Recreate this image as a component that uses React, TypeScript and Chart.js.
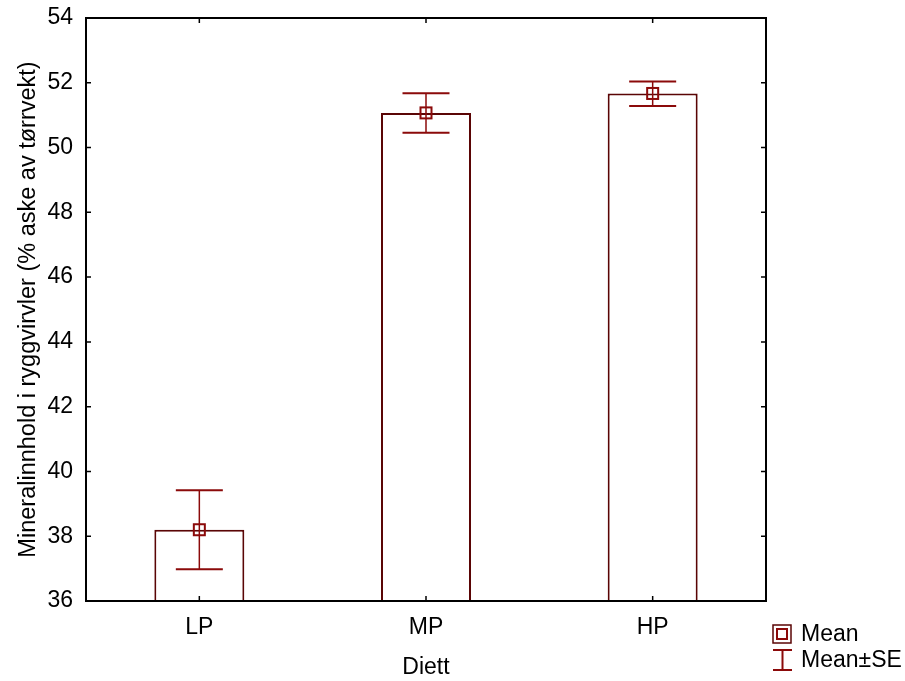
import React, { useEffect, useRef } from "react";
import { Chart, registerables } from "chart.js";

Chart.register(...registerables);

const categories = ["LP", "MP", "HP"];
const means = [38.2, 51.07, 51.67];
const seLower = [36.98, 50.46, 51.28];
const seUpper = [39.42, 51.68, 52.04];
const yMin = 36;
const yMax = 54;
const yStep = 2;
const legendLabels = ["Mean", "Mean±SE"];
const xTitle = "Diett";
const yTitle = "Mineralinnhold i ryggvirvler (% aske av tørrvekt)";

const FONT = "'Liberation Sans', Arial, Helvetica, sans-serif";
const BAR_EDGE = "#5a0505";
const ERR = "#8b0a0a";

const overlayPlugin = {
  id: "overlay",
  afterDatasetsDraw(chart: any) {
    const { ctx, chartArea } = chart;
    const xs = chart.scales.x;
    const ys = chart.scales.y;
    ctx.save();
    // error bars and mean markers
    for (let i = 0; i < categories.length; i++) {
      const x = xs.getPixelForValue(i);
      const yl = ys.getPixelForValue(seLower[i]);
      const yh = ys.getPixelForValue(seUpper[i]);
      const ym = ys.getPixelForValue(means[i]);
      ctx.strokeStyle = ERR;
      ctx.lineWidth = 1.5;
      ctx.beginPath();
      ctx.moveTo(x, yl);
      ctx.lineTo(x, yh);
      ctx.stroke();
      ctx.lineWidth = 2;
      ctx.beginPath();
      ctx.moveTo(x - 23.5, yl);
      ctx.lineTo(x + 23.5, yl);
      ctx.moveTo(x - 23.5, yh);
      ctx.lineTo(x + 23.5, yh);
      ctx.stroke();
      ctx.lineWidth = 2;
      ctx.strokeRect(x - 5.5, ym - 5.5, 11, 11);
    }
    // frame
    ctx.strokeStyle = "#000";
    ctx.lineWidth = 2;
    ctx.strokeRect(chartArea.left, chartArea.top, chartArea.right - chartArea.left, chartArea.bottom - chartArea.top);
    // inner ticks
    ctx.lineWidth = 1.5;
    ctx.beginPath();
    ys.ticks.forEach((t: any) => {
      const y = ys.getPixelForValue(t.value);
      ctx.moveTo(chartArea.left, y);
      ctx.lineTo(chartArea.left + 5, y);
      ctx.moveTo(chartArea.right, y);
      ctx.lineTo(chartArea.right - 5, y);
    });
    for (let i = 0; i < categories.length; i++) {
      const x = xs.getPixelForValue(i);
      ctx.moveTo(x, chartArea.bottom);
      ctx.lineTo(x, chartArea.bottom - 5);
      ctx.moveTo(x, chartArea.top);
      ctx.lineTo(x, chartArea.top + 5);
    }
    ctx.stroke();
    // legend
    const lx = chartArea.right + 7;
    const ly1 = chartArea.bottom + 33;
    const ly2 = chartArea.bottom + 59;
    ctx.strokeStyle = BAR_EDGE;
    ctx.lineWidth = 1.5;
    ctx.strokeRect(lx, ly1 - 9, 18, 18);
    ctx.strokeStyle = ERR;
    ctx.lineWidth = 2;
    ctx.strokeRect(lx + 4, ly1 - 5, 10, 10);
    ctx.beginPath();
    ctx.moveTo(lx, ly2 - 10);
    ctx.lineTo(lx + 19, ly2 - 10);
    ctx.moveTo(lx, ly2 + 10);
    ctx.lineTo(lx + 19, ly2 + 10);
    ctx.moveTo(lx + 9.5, ly2 - 10);
    ctx.lineTo(lx + 9.5, ly2 + 10);
    ctx.stroke();
    ctx.fillStyle = "#000";
    ctx.font = `23px ${FONT}`;
    ctx.textAlign = "left";
    ctx.textBaseline = "middle";
    ctx.fillText(legendLabels[0], lx + 28, ly1 + 1);
    ctx.fillText(legendLabels[1], lx + 28, ly2 + 1);
    ctx.restore();
  },
};

export default function App() {
  const ref = useRef<HTMLCanvasElement>(null);
  useEffect(() => {
    document.body.style.margin = "0";
    const chart = new Chart(ref.current as HTMLCanvasElement, {
      type: "bar",
      data: {
        labels: categories,
        datasets: [
          {
            data: means,
            backgroundColor: "#ffffff",
            borderColor: BAR_EDGE,
            borderWidth: 2,
            borderSkipped: false,
            barPercentage: 0.397,
            categoryPercentage: 1,
          },
        ],
      },
      options: {
        responsive: false,
        animation: false,
        events: [],
        layout: { padding: { top: 18, right: 139, left: 0, bottom: 0 } },
        plugins: { legend: { display: false }, tooltip: { enabled: false } },
        scales: {
          x: {
            grid: { display: false, drawTicks: false },
            border: { display: false },
            ticks: { color: "#000", padding: 13, font: { family: FONT, size: 23 } },
            title: { display: true, text: xTitle, color: "#000", padding: { top: 0, bottom: 0 }, font: { family: FONT, size: 23 } },
            afterFit(scale: any) {
              scale.height = 80;
              scale.paddingLeft = 0;
              scale.paddingRight = 0;
            },
          },
          y: {
            min: yMin,
            max: yMax,
            grid: { display: false, drawTicks: false },
            border: { display: false },
            ticks: { stepSize: yStep, color: "#000", padding: 13, font: { family: FONT, size: 23 } },
            title: { display: true, text: yTitle, color: "#000", padding: { top: 14, bottom: 0 }, font: { family: FONT, size: 23.5 } },
            afterFit(scale: any) {
              scale.width = 86;
              scale.paddingTop = 0;
              scale.paddingBottom = 0;
            },
          },
        },
      },
      plugins: [overlayPlugin],
    });
    return () => chart.destroy();
  }, []);
  return (
    <div style={{ position: "absolute", left: 0, top: 0, width: 905, height: 681, background: "#fff" }}>
      <canvas ref={ref} width={905} height={681} />
    </div>
  );
}
